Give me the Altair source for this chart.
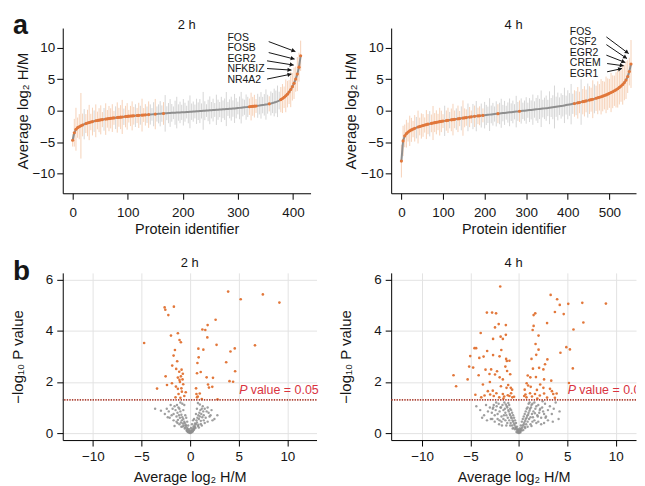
import math
import altair as alt
import pandas as pd

FONT = "Liberation Sans"
ORANGE = "#e2773a"
ORANGE_LIGHT = "#f3c2a0"
GRAY = "#8e8e8e"
GRAY_LIGHT = "#c8c8c8"
RED = "#d9343f"
DOT = "#ad4437"
INK = "#161616"

# ---------------- panel a, 2 h (every 3rd protein, sorted) ----------------
a2_step = 3
a2_mean = [
    -4.7, -3.5, -2.95, -2.7, -2.55, -2.4, -2.27, -2.15, -2.05, -1.96,
    -1.88, -1.8, -1.73, -1.67, -1.61, -1.56, -1.51, -1.46, -1.42, -1.38,
    -1.34, -1.3, -1.26, -1.22, -1.18, -1.15, -1.12, -1.09, -1.06, -1.03,
    -1.0, -0.97, -0.94, -0.91, -0.88, -0.85, -0.83, -0.81, -0.79, -0.77,
    -0.75, -0.73, -0.71, -0.69, -0.67, -0.65, -0.63, -0.61, -0.59, -0.57,
    -0.55, -0.53, -0.51, -0.49, -0.47, -0.45, -0.43, -0.41, -0.39, -0.37,
    -0.35, -0.34, -0.33, -0.31, -0.3, -0.28, -0.27, -0.26, -0.25, -0.23,
    -0.21, -0.19, -0.17, -0.15, -0.13, -0.11, -0.09, -0.07, -0.05, -0.03,
    -0.01, 0.01, 0.03, 0.05, 0.07, 0.09, 0.11, 0.13, 0.15, 0.17,
    0.19, 0.21, 0.23, 0.25, 0.27, 0.29, 0.31, 0.33, 0.35, 0.38,
    0.41, 0.44, 0.47, 0.5, 0.53, 0.56, 0.59, 0.62, 0.65, 0.68,
    0.71, 0.74, 0.77, 0.8, 0.84, 0.88, 0.92, 0.97, 1.02, 1.08,
    1.14, 1.21, 1.29, 1.38, 1.48, 1.6, 1.75, 1.92, 2.12, 2.35,
    2.62, 2.95, 3.35, 3.8, 4.35, 5.0, 5.8, 6.9, 8.7,
]
a2_err = [
    1.0, 2.2, 3.4, 1.6, 2.0, 5.2, 1.8, 2.4, 1.5, 2.1,
    2.8, 1.3, 2.2, 1.7, 2.6, 1.4, 1.9, 2.3, 1.2, 1.8,
    2.5, 1.4, 2.0, 1.6, 2.2, 1.1, 1.8, 2.4, 1.5, 1.9,
    2.7, 1.3, 1.7, 2.1, 1.0, 1.6, 2.3, 1.4, 1.8, 1.2,
    2.0, 1.5, 2.6, 1.1, 1.7, 1.3, 2.1, 1.6, 1.0, 1.9,
    2.4, 1.2, 1.5, 2.0, 1.3, 1.8, 2.9, 1.1, 1.6, 2.2,
    1.4, 1.0, 1.9, 2.5, 1.3, 1.7, 1.2, 2.1, 1.5, 1.0,
    1.8, 2.6, 1.3, 1.6, 1.1, 2.0, 1.4, 1.9, 1.2, 3.0,
    1.5, 1.0, 1.7, 2.2, 1.3, 1.8, 1.1, 2.4, 1.6, 1.2,
    2.0, 1.4, 1.7, 2.7, 1.1, 1.5, 1.9, 1.3, 2.3, 1.6,
    1.0, 1.8, 2.5, 1.4, 1.2, 2.0, 1.6, 1.3, 2.2, 1.5,
    1.8, 1.1, 1.9, 1.4, 2.1, 1.3, 1.7, 2.4, 1.5, 1.2,
    1.9, 1.6, 2.2, 1.8, 2.5, 1.4, 2.0, 2.3, 1.7, 2.6,
    2.1, 1.9, 2.8, 2.2, 2.5, 2.0, 2.7, 2.3, 2.4,
]
a2_sig = ("111111101111101111101111110111101111110110111"
          + "010001000010000000"
          + "0" * 44 + "11111" + "00000001000000" + "1" * 13)
a2_labels = ["FOS", "FOSB", "EGR2", "NFKBIZ", "NR4A2"]
a2_lab_x = [281, 281, 281, 281, 281]
a2_lab_y = [11.55, 9.88, 8.21, 6.54, 4.87]
a2_arr_x1 = [356, 356, 353, 353, 353]
a2_arr_y1 = [10.95, 9.21, 7.9, 6.68, 5.01]
a2_arr_x2 = [404.5, 403, 401.4, 397.3, 397.3]
a2_arr_y2 = [9.37, 8.17, 7.22, 6.43, 5.8]

# ---------------- panel a, 4 h (every 4th protein, sorted) ----------------
a4_step = 4
a4_mean = [
    -8.0, -4.8, -4.0, -3.65, -3.4, -3.2, -3.05, -2.92, -2.8, -2.7,
    -2.6, -2.51, -2.43, -2.35, -2.28, -2.21, -2.14, -2.08, -2.02, -1.96,
    -1.9, -1.85, -1.8, -1.75, -1.7, -1.66, -1.62, -1.58, -1.54, -1.5,
    -1.46, -1.42, -1.38, -1.34, -1.3, -1.26, -1.22, -1.18, -1.14, -1.1,
    -1.06, -1.02, -0.98, -0.94, -0.9, -0.87, -0.84, -0.81, -0.78, -0.75,
    -0.72, -0.69, -0.66, -0.63, -0.6, -0.57, -0.54, -0.51, -0.48, -0.45,
    -0.42, -0.39, -0.36, -0.33, -0.3, -0.27, -0.24, -0.21, -0.18, -0.15,
    -0.12, -0.09, -0.06, -0.03, 0.0, 0.03, 0.06, 0.09, 0.12, 0.15,
    0.18, 0.21, 0.24, 0.27, 0.3, 0.33, 0.36, 0.39, 0.42, 0.46,
    0.5, 0.54, 0.58, 0.62, 0.66, 0.7, 0.74, 0.78, 0.83, 0.88,
    0.93, 0.98, 1.03, 1.08, 1.13, 1.18, 1.24, 1.3, 1.36, 1.42,
    1.48, 1.54, 1.6, 1.67, 1.74, 1.81, 1.88, 1.96, 2.04, 2.12,
    2.2, 2.3, 2.4, 2.5, 2.62, 2.74, 2.87, 3.0, 3.15, 3.3,
    3.48, 3.68, 3.9, 4.15, 4.45, 4.85, 5.4, 6.2, 7.4,
]
a4_err = [
    2.6, 2.4, 1.8, 2.2, 1.5, 2.4, 1.9, 1.3, 2.1, 1.7,
    2.6, 1.4, 2.0, 1.8, 1.2, 2.3, 1.6, 2.0, 1.4, 2.7,
    1.5, 1.9, 1.3, 2.2, 1.7, 1.1, 2.4, 1.6, 2.0, 1.3,
    1.8, 2.5, 1.4, 1.7, 2.1, 1.2, 1.9, 2.8, 1.5, 1.3,
    2.2, 1.6, 1.0, 2.0, 1.7, 2.4, 1.3, 1.5, 1.9, 1.1,
    2.1, 1.6, 1.3, 2.6, 1.4, 1.8, 1.2, 2.0, 1.5, 1.7,
    2.3, 1.3, 1.9, 1.1, 1.6, 2.2, 1.4, 1.8, 1.2, 2.5,
    1.5, 1.7, 2.0, 1.3, 1.6, 2.1, 1.2, 1.9, 1.5, 2.4,
    1.3, 1.8, 2.2, 1.6, 2.9, 1.4, 1.7, 2.0, 1.3, 2.6,
    1.5, 1.9, 3.4, 1.6, 2.2, 1.4, 2.0, 1.7, 2.8, 1.5,
    2.3, 1.8, 3.2, 1.6, 2.1, 1.9, 2.5, 1.7, 3.6, 2.0,
    2.4, 1.8, 2.7, 2.2, 1.9, 3.0, 2.3, 2.0, 2.6, 2.1,
    2.8, 2.4, 2.2, 2.9, 2.5, 2.3, 3.1, 2.6, 2.4, 2.8,
    3.0, 2.7, 2.5, 3.2, 2.8, 3.0, 2.6, 2.2, 3.8,
]
a4_sig = ("1111111110111111101111111"
          + "1011011101" + "1011101101" + "01101"
          + "00000000" + "1" + "000000000000" + "1" + "0" * 32
          + "101101110111011" + "1" * 20)
a4_labels = ["FOS", "CSF2", "EGR2", "CREM", "EGR1"]
a4_lab_x = [405, 405, 405, 405, 405]
a4_lab_y = [12.5, 10.83, 9.16, 7.49, 5.82]
a4_arr_x1 = [492.8, 492.8, 492.8, 494.5, 494.5]
a4_arr_y1 = [11.69, 10.47, 8.8, 7.47, 6.16]
a4_arr_x2 = [546.4, 542.3, 538.3, 534.4, 530.4]
a4_arr_y2 = [9.05, 8.26, 7.63, 7.11, 6.68]

# ---------------- panel b, volcano 2 h ----------------
b2_sig_x = [3.91, 5.2, 7.48, 9.18, -2.62, -2.55, -1.67, -2.24, 1.8, 2.62, 1.26, 1.56,
            -1.97, -1.26, -1.09, -0.95, 1.77, -4.73, 0.85, 1.36, 2.72, 4.59, 4.15, 6.67,
            -1.56, -1.7, 0.88, -1.33, 0.75, 3.71, -1.84, -1.43, 1.09, 0.71, -0.88, -1.12,
            -0.75, -0.95, -1.26, -2.52, 1.7, 2.35, 4.63, 4.05, 4.42, -0.78, -1.09, -1.87,
            -3.4, -2.38, -1.46, -1.26, -0.71, -0.85, 1.84, 1.94, 2.28, 0.61, 0.65, 0.78,
            0.99, -1.5, -1.19, 2.82, 0.71, -0.6, -1.0, 1.2, -0.45, -1.05, -0.9]
b2_sig_y = [5.53, 5.23, 5.42, 5.10, 4.91, 4.82, 4.94, 4.61, 4.22, 4.43, 4.05, 4.03,
            3.81, 3.9, 3.64, 3.55, 3.74, 3.52, 3.3, 3.26, 3.45, 3.31, 3.19, 3.43,
            3.25, 3.03, 2.96, 2.81, 2.74, 2.77, 2.64, 2.51, 2.39, 2.34, 2.48, 2.4,
            2.32, 2.22, 2.17, 2.22, 2.18, 2.16, 2.42, 2.03, 2.01, 2.1, 2.08, 1.95,
            1.74, 1.88, 1.82, 1.73, 1.91, 1.62, 1.9, 1.78, 1.81, 1.75, 1.53, 1.43,
            1.55, 1.4, 1.53, 1.32, 1.4, 1.45, 1.38, 1.33, 1.6, 2.0, 1.75]
b2_ns_x = [-0.05, 0.05, -0.1, 0.1, 0.0, -0.15, 0.15, -0.2, 0.2, -0.25, 0.25, -0.3, 0.3,
           -0.35, 0.35, -0.4, 0.4, -0.45, 0.45, -0.5, 0.5, -0.55, 0.55, -0.6, 0.6, -0.65,
           0.65, -0.7, 0.7, -0.75, 0.75, -0.8, 0.8, -0.85, 0.85, -0.9, 0.9, -0.95, 0.95,
           -1.0, 1.0, -1.05, 1.05, -1.1, 1.1, -1.15, 1.15, -1.2, 1.2, -1.25, 1.25, -1.3,
           1.3, -1.35, 1.35, -1.4, 1.4, -1.5, 1.5, -1.6, 1.6, -1.7, 1.7, -1.8, 1.8, -1.9,
           1.9, -2.0, 2.0, -2.2, 2.2, -2.4, 2.5, -2.6, 2.8, -3.0, -3.6, -0.6, -0.8, -1.0,
           0.8, 1.0, -0.4, 0.4, -0.2, 0.2, -0.3, 0.3, -0.1, 0.1, -0.5, 0.6, -0.7, 0.7,
           -1.1, 1.2, -0.9, 0.9, -1.4, 1.5, -1.7, 1.8, -2.1, 2.3, 0.05, -0.05, 0.12,
           -0.12, 0.22, -0.22, -0.35, 0.4, -0.55, 0.5, -0.75, 0.85, -1.3, 1.1, -1.6,
           1.4, -2.3, 2.1, -0.25, 0.3]
b2_ns_y = [0.02, 0.03, 0.06, 0.05, 0.01, 0.1, 0.08, 0.04, 0.12, 0.15, 0.07, 0.2, 0.18,
           0.09, 0.25, 0.28, 0.13, 0.33, 0.3, 0.22, 0.38, 0.4, 0.2, 0.45, 0.35, 0.3,
           0.5, 0.55, 0.42, 0.38, 0.6, 0.62, 0.28, 0.5, 0.7, 0.72, 0.55, 0.42, 0.8,
           0.85, 0.65, 0.6, 0.9, 0.95, 0.48, 0.7, 0.75, 1.0, 0.95, 0.52, 0.62, 0.8,
           1.05, 1.1, 0.85, 0.65, 0.7, 0.9, 0.95, 1.05, 0.6, 0.75, 0.85, 0.95, 1.0, 0.7,
           0.8, 1.1, 0.65, 0.85, 0.9, 0.95, 0.55, 0.75, 0.7, 0.88, 0.95, 1.1, 1.15, 1.2,
           1.18, 1.12, 0.6, 0.55, 0.3, 0.35, 0.45, 0.5, 0.15, 0.2, 0.7, 0.75, 0.9, 0.95,
           0.35, 0.3, 0.25, 0.22, 0.45, 0.4, 0.5, 0.45, 0.6, 0.5, 0.1, 0.08, 0.02,
           0.03, 0.05, 0.07, 0.12, 0.16, 0.18, 0.24, 0.26, 0.33, 0.4, 0.36, 0.28,
           0.5, 0.62, 0.7, 0.06, 0.09]

# ---------------- panel b, volcano 4 h ----------------
b4_sig_x = [-1.93, 3.28, 3.95, 5.1, 6.55, 8.99, 4.22, 3.72, 4.63, -3.31, -2.77, -2.36,
            1.69, 1.52, -2.09, -2.47, -1.35, 2.91, 6.66, 1.52, 1.42, -3.95, -2.67, -1.66,
            -1.89, -1.35, 5.64, 2.03, -4.59, -4.42, -1.82, -3.28, -2.67, 4.9, 5.27, 4.29,
            1.72, 2.03, -5.03, -4.09, -3.65, -1.32, -0.98, -1.25, 1.79, 2.94, 2.7, -5.14,
            -4.73, -3.45, -2.87, -2.26, -1.22, 1.45, 2.09, 2.53, 5.57, -6.76, -5.3, -4.16,
            -3.04, -2.47, -1.99, -1.66, 0.91, 1.18, 1.76, 2.6, 3.34, -6.49, -3.72, -3.21,
            -2.7, -1.86, -1.28, -1.11, -0.84, 0.95, 1.22, 1.86, 2.53, 3.21, 3.41, 5.17,
            -3.55, -2.97, -2.33, -1.66, -1.15, -0.81, 0.68, 1.15, 1.66, 2.6, 3.55, -3.89,
            -2.03, -1.52, -0.98, -0.68, 0.78, 1.35, 2.16, 2.91, 3.72, -1.6, -0.7, -0.5,
            0.55, 0.6, -2.6, 1.9, -1.4, -2.0, 2.2, -3.0, -0.9, 1.3, 0.8, -4.5, 3.9]
b4_sig_y = [5.73, 5.4, 5.23, 5.05, 5.09, 5.06, 5.01, 4.73, 4.65, 4.71, 4.71, 4.68,
            4.68, 4.61, 4.26, 4.13, 4.22, 4.3, 4.32, 4.19, 4.03, 3.91, 3.68, 3.68,
            3.77, 3.84, 4.05, 3.81, 3.32, 3.32, 3.25, 3.21, 3.05, 3.36, 3.27, 3.14,
            3.48, 3.26, 3.01, 2.94, 2.99, 2.9, 2.83, 2.82, 3.06, 2.88, 2.69, 2.6,
            2.56, 2.48, 2.49, 2.42, 2.43, 2.52, 2.55, 2.49, 2.53, 2.26, 2.1, 2.26,
            2.31, 2.29, 2.18, 2.1, 2.25, 2.18, 2.19, 2.1, 2.05, 1.83, 1.9, 1.64,
            1.66, 1.83, 1.77, 1.88, 1.77, 1.86, 1.81, 1.69, 1.77, 1.73, 1.64, 1.96,
            1.47, 1.51, 1.56, 1.53, 1.48, 1.56, 1.51, 1.56, 1.53, 1.55, 1.53, 1.4,
            1.4, 1.43, 1.45, 1.4, 1.4, 1.43, 1.47, 1.39, 1.38, 1.35, 1.7, 1.42,
            1.45, 1.7, 1.45, 1.35, 2.6, 3.0, 1.9, 2.0, 2.3, 2.9, 1.95, 1.5, 1.55]
b4_ns_x = [0.0, -0.05, 0.05, -0.1, 0.1, -0.15, 0.15, -0.2, 0.2, -0.25, 0.25, -0.3, 0.3,
           -0.35, 0.35, -0.4, 0.4, -0.45, 0.45, -0.5, 0.5, -0.55, 0.55, -0.6, 0.6, -0.65,
           0.65, -0.7, 0.7, -0.75, 0.75, -0.8, 0.8, -0.85, 0.85, -0.9, 0.9, -0.95, 0.95,
           -1.0, 1.0, -1.05, 1.05, -1.1, 1.1, -1.15, 1.15, -1.2, 1.2, -1.25, 1.25, -1.3,
           1.3, -1.35, 1.35, -1.4, 1.4, -1.5, 1.5, -1.6, 1.6, -1.7, 1.7, -1.8, 1.8, -1.9,
           1.9, -2.0, 2.0, -2.1, 2.1, -2.2, 2.2, -2.3, 2.3, -2.4, 2.4, -2.5, 2.5, -2.6,
           2.6, -2.7, 2.7, -2.8, 2.8, -3.0, 3.0, -3.2, 3.2, -3.4, 3.4, -3.6, 3.6, -3.8,
           3.8, -4.0, 4.1, -4.4, 4.2, -0.3, 0.3, -0.5, 0.5, -0.7, 0.7, -0.9, 0.9, -1.1,
           1.1, -0.2, 0.2, -0.4, 0.4, -0.6, 0.6, -0.8, 0.8, -1.0, 1.0, -1.2, 1.2, -1.4,
           1.4, -1.6, 1.6, -1.8, 1.8, -2.0, 2.0, -2.2, 2.3, -2.5, 2.6, -2.9, 3.0, -3.3,
           3.5, -0.1, 0.1, -0.05, 0.05, 0.0, -0.15, 0.15, -0.9, 0.9, -1.3, 1.3,
           -1.55, 1.65, -1.85, 2.15, -2.35, 2.45, -2.65, -1.75, 1.45, -2.05, 0.65,
           -0.65, -1.45, 1.95, -2.75, 2.75]
b4_ns_y = [0.01, 0.03, 0.02, 0.06, 0.05, 0.1, 0.08, 0.14, 0.12, 0.05, 0.18, 0.2, 0.1,
           0.25, 0.22, 0.15, 0.3, 0.32, 0.12, 0.38, 0.35, 0.2, 0.42, 0.45, 0.25, 0.5,
           0.48, 0.3, 0.55, 0.58, 0.35, 0.62, 0.6, 0.4, 0.68, 0.7, 0.45, 0.75, 0.72,
           0.5, 0.8, 0.85, 0.55, 0.9, 0.88, 0.6, 0.95, 1.0, 0.62, 1.05, 1.0, 0.7, 1.1,
           1.12, 0.75, 0.8, 1.15, 1.2, 0.85, 0.9, 1.2, 1.1, 0.95, 0.65, 1.05, 1.0, 0.7,
           0.85, 1.1, 1.15, 0.8, 0.75, 0.95, 1.05, 0.6, 0.9, 1.0, 0.7, 0.85, 1.1, 0.75,
           0.95, 1.15, 0.8, 0.65, 1.0, 0.9, 0.85, 1.05, 1.1, 0.75, 0.7, 0.95, 0.6, 1.2,
           0.9, 0.55, 1.05, 0.85, 0.4, 0.45, 0.6, 0.65, 0.8, 0.85, 0.95, 1.0, 1.18, 1.2,
           0.25, 0.3, 0.5, 0.55, 0.7, 0.75, 0.9, 0.95, 1.1, 1.15, 0.4, 0.35, 0.5, 0.45,
           0.55, 0.5, 0.45, 0.4, 0.5, 0.45, 0.55, 0.35, 0.45, 0.4, 0.55, 0.5, 0.5, 0.45,
           0.15, 0.18, 0.1, 0.12, 0.05, 0.02, 0.03, 0.3, 0.25, 0.3, 0.28,
           0.7, 0.78, 1.0, 0.9, 1.2, 1.25, 1.0, 0.3, 0.62, 0.35, 0.2,
           0.18, 0.95, 0.65, 0.55, 0.6]

P_THRESHOLD = 0.05

# ---------------- layout constants ----------------
A_H = 166
B_H = 168
A2_W, A4_W, B2_W, B4_W = 249, 246, 255, 246
A2_XDOM = [-18, 432]
A4_XDOM = [-24.6, 564]
A_YDOM = [-13.1, 13.1]
B2_XDOM = [-13.1, 13.0]
B4_XDOM = [-13.2, 12.1]
B_YDOM = [-0.27, 6.26]


def text_layer(txt, x, y, size, weight="normal", align="left", baseline="alphabetic"):
    return alt.Chart(pd.DataFrame({"t": [txt]})).mark_text(
        font=FONT, fontSize=size, fontWeight=weight, align=align,
        baseline=baseline, color=INK,
    ).encode(x=alt.value(x), y=alt.value(y), text="t:N")


def a_panel(mean, err, sig, step, width, xdom, xticks, title, letter,
            labels, lx, ly, x1, y1, x2, y2):
    n = min(len(mean), len(err), len(sig))
    df = pd.DataFrame({
        "idx": [k * step for k in range(n)],
        "mean": mean[:n],
        "lo": [mean[k] - err[k] for k in range(n)],
        "hi": [mean[k] + err[k] for k in range(n)],
        "sig": ["s" if sig[k] == "1" else "n" for k in range(n)],
    })
    xs = alt.Scale(domain=xdom, nice=False, zero=False)
    ys = alt.Scale(domain=A_YDOM, nice=False, zero=False)
    xa = alt.Axis(values=xticks, grid=False, title="Protein identifier",
                  tickSize=6, labelPadding=6, titlePadding=4)
    ya = alt.Axis(values=[-10, -5, 0, 5, 10], grid=False,
                  title="Average log₂ H/M", tickSize=6, labelPadding=2,
                  titlePadding=2, titleFontSize=15)

    def X(f):
        return alt.X(f, type="quantitative", scale=xs, axis=xa)

    def Y(f):
        return alt.Y(f, type="quantitative", scale=ys, axis=ya)

    base = alt.Chart(df)
    bars = base.mark_rule(strokeWidth=1, opacity=0.75).encode(
        x=X("idx"), y=Y("lo"), y2="hi",
        color=alt.Color("sig:N", scale=alt.Scale(domain=["n", "s"],
                        range=[GRAY_LIGHT, ORANGE_LIGHT]), legend=None),
    )
    line = base.mark_line(color=GRAY, strokeWidth=2).encode(x=X("idx"), y=Y("mean"))
    pts = base.transform_filter(alt.datum.sig == "s").mark_circle(
        color=ORANGE, size=10, opacity=1).encode(x=X("idx"), y=Y("mean"))

    # arrow geometry (pixel directions from the scales)
    pxx = width / (xdom[1] - xdom[0])
    pxy = A_H / (A_YDOM[1] - A_YDOM[0])
    angs, hx, hy = [], [], []
    for i in range(len(x1)):
        dx = (x2[i] - x1[i]) * pxx
        dy = -(y2[i] - y1[i]) * pxy
        L = math.hypot(dx, dy)
        angs.append(math.degrees(math.atan2(dy, dx)) % 360)
        hx.append(x2[i] - 2.0 * dx / L / pxx)
        hy.append(y2[i] + 2.0 * dy / L / pxy)
    ann = pd.DataFrame({"lab": labels, "lx": lx, "ly": ly, "x1": x1, "y1": y1,
                        "x2": x2, "y2": y2, "hx": hx, "hy": hy, "ang": angs})
    abase = alt.Chart(ann)
    txt = abase.mark_text(font=FONT, fontSize=10.5, align="left", baseline="middle",
                          color=INK).encode(x=X("lx"), y=Y("ly"), text="lab:N")
    arr = abase.mark_rule(color=INK, strokeWidth=1).encode(
        x=X("x1"), y=Y("y1"), x2="x2", y2="y2")
    heads = abase.mark_point(shape="triangle-right", filled=True, size=20,
                             color=INK, opacity=1, strokeWidth=0).encode(
        x=X("hx"), y=Y("hy"), angle=alt.Angle("ang:Q", scale=None))

    layers = [bars, line, pts, arr, heads, txt,
              text_layer(title, width / 2, 1, 13, align="center")]
    if letter:
        layers.append(text_layer(letter, -50, 6, 27, weight="bold"))
    return alt.layer(*layers).properties(width=width, height=A_H)


def b_panel(sx, sy, nx, ny, width, xdom, title, letter, clip_label):
    xs = alt.Scale(domain=xdom, nice=False, zero=False)
    ys = alt.Scale(domain=B_YDOM, nice=False, zero=False)
    xa = alt.Axis(values=[-10, -5, 0, 5, 10], grid=True, title="Average log₂ H/M",
                  tickSize=6, labelPadding=4, titlePadding=7)
    ya = alt.Axis(values=[0, 2, 4, 6], grid=True, title="−log₁₀ P value",
                  tickSize=6, labelPadding=4, titlePadding=20, titleFontSize=15)

    def X(f):
        return alt.X(f, type="quantitative", scale=xs, axis=xa)

    def Y(f):
        return alt.Y(f, type="quantitative", scale=ys, axis=ya)

    gray = alt.Chart(pd.DataFrame({"x": nx, "y": ny})).mark_circle(
        color=GRAY, size=6, opacity=0.85).encode(x=X("x"), y=Y("y"))
    orange = alt.Chart(pd.DataFrame({"x": sx, "y": sy})).mark_circle(
        color=ORANGE, size=7, opacity=1).encode(x=X("x"), y=Y("y"))
    thr = alt.Chart(pd.DataFrame({"p": [-math.log10(P_THRESHOLD)]})).mark_rule(
        color=DOT, strokeWidth=1.6, strokeDash=[1.4, 1.2]).encode(y=Y("p"))
    lab = pd.DataFrame({"x": [5.05], "y": [1.67]})
    t1 = alt.Chart(lab).mark_text(font=FONT, fontSize=12.5, fontStyle="italic",
                                  align="left", baseline="middle", color=RED,
                                  clip=clip_label).encode(x=X("x"), y=Y("y"),
                                                          text=alt.value("P"))
    t2 = alt.Chart(lab).mark_text(font=FONT, fontSize=12.5, align="left",
                                  baseline="middle", color=RED, dx=11.5,
                                  clip=clip_label).encode(x=X("x"), y=Y("y"),
                                                          text=alt.value("value = 0.05"))
    layers = [gray, orange, thr, t1, t2,
              text_layer(title, width / 2, -6, 13, align="center")]
    if letter:
        layers.append(text_layer(letter, -50, 7, 28, weight="bold"))
    return alt.layer(*layers).properties(width=width, height=B_H)


a2 = a_panel(a2_mean, a2_err, a2_sig, a2_step, A2_W, A2_XDOM, [0, 100, 200, 300, 400],
             "2 h", "a", a2_labels, a2_lab_x, a2_lab_y, a2_arr_x1, a2_arr_y1,
             a2_arr_x2, a2_arr_y2)
a4 = a_panel(a4_mean, a4_err, a4_sig, a4_step, A4_W, A4_XDOM,
             [0, 100, 200, 300, 400, 500], "4 h", None, a4_labels, a4_lab_x,
             a4_lab_y, a4_arr_x1, a4_arr_y1, a4_arr_x2, a4_arr_y2)
b2 = b_panel(b2_sig_x, b2_sig_y, b2_ns_x, b2_ns_y, B2_W, B2_XDOM, "2 h", "b", False)
b4 = b_panel(b4_sig_x, b4_sig_y, b4_ns_x, b4_ns_y, B4_W, B4_XDOM, "4 h", None, True)

chart = alt.concat(
    a2, a4, b2, b4, columns=2, spacing={"row": 80, "column": 75}, bounds="flush"
).properties(
    padding={"left": 2, "top": 3, "right": 0, "bottom": 0}
).configure_view(stroke=None).configure_axis(
    domainColor="#000", tickColor="#000", domainWidth=1, tickWidth=1,
    labelFont=FONT, titleFont=FONT, labelFontSize=13.5, titleFontSize=14.5,
    titleFontWeight="normal", labelColor=INK, titleColor=INK,
    gridColor="#e3e3e3", gridWidth=1,
)

chart.save("out.html", embed_options={"renderer": "svg", "actions": False})
